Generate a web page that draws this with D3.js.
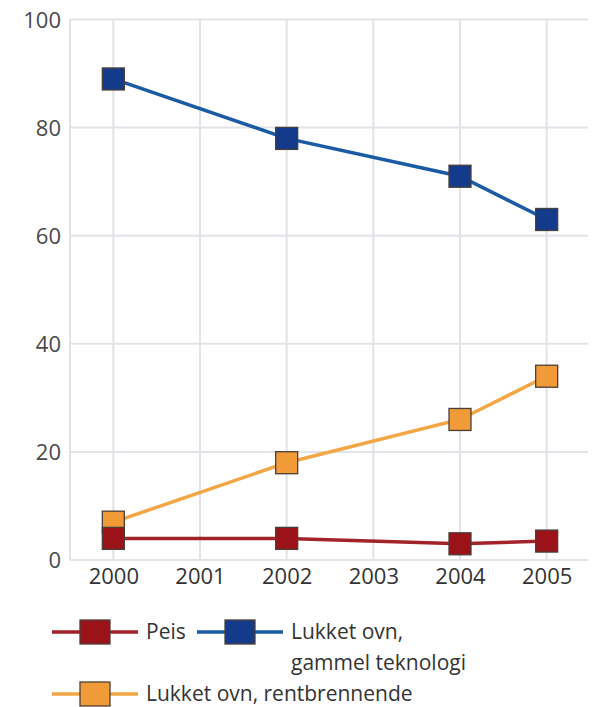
<!DOCTYPE html>
<html>
<head>
<meta charset="utf-8">
<script src="https://cdn.jsdelivr.net/npm/d3@7"></script>
<style>
  html, body { margin: 0; padding: 0; background: #fff; }
  svg { display: block; font-family: "Open Sans", "DejaVu Sans", sans-serif; }
</style>
</head>
<body>
<svg id="chart" width="592" height="707"></svg>
<script>
(function () {
// Years on the x axis and share (%) per stove type
const years = [2000, 2002, 2004, 2005];
const xTickLabels = [2000, 2001, 2002, 2003, 2004, 2005];
const yTickLabels = [0, 20, 40, 60, 80, 100];
const peis = [4, 4, 3, 3.5];
const gammel = [89, 78, 71, 63];
const rentbrennende = [7, 18, 26, 34];

const seriesNames = ["Peis", "Lukket ovn, gammel teknologi", "Lukket ovn, rentbrennende"];
const lineColors = ["#a3232a", "#1b5aa5", "#f3a644"];
const markerColors = ["#9b1219", "#133a8b", "#f19a38"];

const svg = d3.select("#chart");
const plotLeft = 70, plotRight = 590, plotTop = 19.5, plotBottom = 560;

const x = d3.scaleLinear().domain([1999.5, 2005.5]).range([plotLeft, plotRight]);
const y = d3.scaleLinear().domain([0, 100]).range([plotBottom, plotTop]);

// Grid
const grid = svg.append("g");
grid.selectAll("line.h").data(yTickLabels).join("line")
  .attr("x1", plotLeft).attr("x2", plotRight - 2)
  .attr("y1", d => y(d)).attr("y2", d => y(d))
  .attr("stroke", "#e2e2e8").attr("stroke-width", 2);
grid.selectAll("line.v").data(xTickLabels).join("line")
  .attr("x1", d => x(d)).attr("x2", d => x(d))
  .attr("y1", plotTop).attr("y2", plotBottom)
  .attr("stroke", "#e2e2e8").attr("stroke-width", 2);
grid.append("line")
  .attr("x1", plotLeft).attr("x2", plotLeft).attr("y1", plotTop).attr("y2", plotBottom)
  .attr("stroke", "#e2e2e8").attr("stroke-width", 2);

// Axes (labels only)
const yAxis = d3.axisLeft(y).tickValues(yTickLabels).tickSize(0).tickPadding(9);
const gy = svg.append("g").attr("transform", `translate(${plotLeft},0)`).call(yAxis);
gy.select(".domain").remove();
gy.selectAll("text").attr("font-size", 22).attr("fill", "#4a4a4a")
  .attr("font-family", "'Open Sans', sans-serif").attr("dy", "0.35em");

const xAxis = d3.axisBottom(x).tickValues(xTickLabels).tickFormat(d3.format("d")).tickSize(0).tickPadding(8);
const gx = svg.append("g").attr("transform", `translate(0,${plotBottom})`).call(xAxis);
gx.select(".domain").remove();
gx.selectAll("text").attr("font-size", 22).attr("fill", "#333")
  .attr("font-family", "'Open Sans', sans-serif");

// Series: drawn so that Peis ends up on top
const allSeries = [gammel, rentbrennende, peis];
const order = [1, 2, 0];
const line = d3.line().x((d, i) => x(years[i])).y(d => y(d));
const ms = 22;

allSeries.forEach((vals, k) => {
  const idx = order[k];
  const g = svg.append("g");
  g.append("path").datum(vals)
    .attr("d", line).attr("fill", "none")
    .attr("stroke", lineColors[idx]).attr("stroke-width", 3.5);
  g.selectAll("rect").data(vals).join("rect")
    .attr("x", (d, i) => x(years[i]) - ms / 2)
    .attr("y", d => y(d) - ms / 2)
    .attr("width", ms).attr("height", ms)
    .attr("fill", markerColors[idx])
    .attr("stroke", "#4a3f38").attr("stroke-width", 1.3);
});

// Legend
const legendItems = [
  { i: 0, x: 52, y: 632, lines: ["Peis"] },
  { i: 1, x: 197, y: 632, lines: ["Lukket ovn,", "gammel teknologi"] },
  { i: 2, x: 52, y: 694, lines: ["Lukket ovn, rentbrennende"] }
];
const lg = svg.append("g");
legendItems.forEach(it => {
  const g = lg.append("g");
  g.append("line").attr("x1", it.x).attr("x2", it.x + 86)
    .attr("y1", it.y).attr("y2", it.y)
    .attr("stroke", lineColors[it.i]).attr("stroke-width", 3.5);
  g.append("rect").attr("x", it.x + 28).attr("y", it.y - 12)
    .attr("width", 30).attr("height", 24)
    .attr("fill", markerColors[it.i])
    .attr("stroke", "#4a3f38").attr("stroke-width", 1.3);
  const t = g.append("text").attr("x", it.x + 94).attr("y", it.y)
    .attr("font-size", 21).attr("fill", "#333")
    .attr("font-family", "'Open Sans', sans-serif");
  it.lines.forEach((s, j) => {
    t.append("tspan").attr("x", it.x + 94)
      .attr("dy", j === 0 ? "0.35em" : "1.45em").text(s);
  });
});
})();
</script>
</body>
</html>
